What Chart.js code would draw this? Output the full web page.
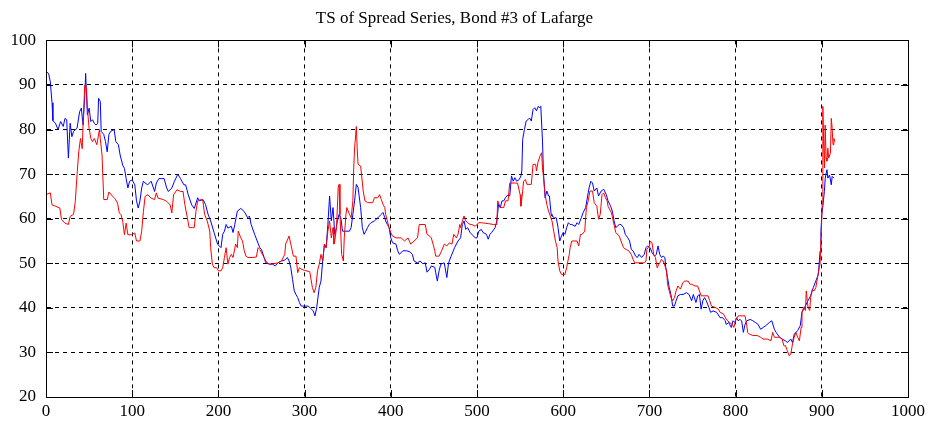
<!DOCTYPE html>
<html>
<head>
<meta charset="utf-8">
<script src="https://cdn.jsdelivr.net/npm/chart.js@4"></script>
<style>
  body { margin: 0; background: #fff; }
  canvas { display: block; }
</style>
</head>
<body>
<canvas id="spreadChart" width="929" height="426"></canvas>
<script>
const chartTitle = 'TS of Spread Series, Bond #3 of Lafarge';
const xTicks = [0, 100, 200, 300, 400, 500, 600, 700, 800, 900, 1000];
const yTicks = [20, 30, 40, 50, 60, 70, 80, 90, 100];

// blue series (observation index, spread)
const blueX = [0,3,5,7,8,11,14,17,20,22,24,26,28,30,32,36,39,41,43,45,46,48,50,52,54,56,58,60,61,63,64,67,69,71,73,75,79,81,84,86,89,91,93,95,97,100,103,105,107,109,111,113,115,118,122,126,128,131,134,137,140,142,146,149,153,156,160,162,165,169,172,176,178,182,185,188,191,195,199,203,205,207,209,211,215,217,219,222,226,230,234,236,238,242,245,248,250,253,255,259,263,266,269,273,277,280,282,284,286,288,290,292,294,296,300,304,307,310,312,314,317,319,321,323,325,327,329,331,333,335,336,338,340,342,344,348,352,354,356,358,360,362,364,365,367,369,371,373,375,377,381,385,389,391,393,394,396,398,400,402,406,408,410,414,418,422,425,427,431,434,437,440,442,445,447,451,452,454,456,458,462,465,467,470,474,478,481,483,485,487,489,492,494,498,500,502,505,507,511,513,515,517,521,523,525,527,529,531,533,536,538,540,542,544,546,549,551,552,553,555,557,559,561,563,565,567,569,571,573,574,576,577,579,581,583,584,586,587,590,592,594,596,598,600,602,604,606,608,610,614,616,618,621,623,626,629,630,632,634,636,639,641,644,647,650,652,655,657,659,661,665,667,670,672,675,677,679,681,684,686,688,691,694,696,698,701,703,706,708,710,712,714,716,718,719,721,723,725,727,729,731,733,736,739,743,746,749,751,754,756,758,760,762,764,766,769,771,774,778,782,785,788,789,792,795,797,799,801,803,805,807,809,811,813,817,820,823,826,829,832,835,839,842,845,847,851,854,858,860,864,866,868,872,875,877,880,884,887,890,893,896,898,899,900,901,903,904,906,907,909,911,912,914];
const blueY = [93,92.6,90.7,86,82,81.4,80,81.8,80.7,82.5,82.2,73.6,81.4,78.4,79.6,80.3,84,84.8,81,87.8,92.6,83.3,84.8,81.8,82.2,81.4,81,81.4,87,86.3,79.6,78.9,77.3,75,78.9,79.6,80,77.3,76.6,74.3,72,71.3,69,66.9,68.4,68.7,67.6,64,62.4,64,66.9,68.4,68,67.6,68.4,66.1,68,69,69,69,66.9,66.1,66.9,68.4,70,69,67.6,67.6,65.4,63.1,62.3,64.7,64,64.3,63.2,61,59.5,56.9,54.3,53.5,56.5,57.2,58.7,57.9,58.3,56.9,58.7,61.7,62.3,61.6,60.2,60.6,58.7,56.5,55,53.5,53.1,51.3,50.1,49.8,49.8,49.4,50.1,50.5,50.7,51.3,50.5,49,46.4,43.8,43,42.3,41.2,40.4,40.4,40.4,39.9,39.3,38.2,40,44.6,46,50.5,54.3,53.5,58.7,65.1,59.5,62.5,56.5,57.2,59.5,61,60.2,57.2,57.2,57.2,58,61,64,67.7,67,64,62.5,58,56.5,57.2,58,58.7,59.1,59.5,60.2,61,61.4,60.2,59.5,58.7,58,55.7,54.6,54.3,52.8,52,52.8,52.8,52.6,52,50.5,50.1,50.5,49.9,50.1,48,48.7,49.4,49.1,48,46,48.3,49.8,50.1,46.8,50.1,51.6,53.5,55,55.7,58.7,59.5,57.6,58,56.9,56.5,55.7,55.7,57.2,57.6,56.9,56.5,55.4,56.5,56.9,58,59.5,63.2,62.5,64,64,64.7,65.4,65.1,69.6,68.4,69.2,68.4,68.8,69.6,70.7,77.8,80,81.9,82.2,82.6,81.9,84.5,84.9,84.2,85.2,84.9,85.2,77.4,70.7,64.7,66.2,65.1,65.1,61,60.6,60.2,60.2,58,55,56.1,56.9,56.5,58,59.1,58.7,58.7,58.3,59.1,58.7,60.2,61.3,62.5,65.8,66.9,68.4,68,66.2,66.9,65.1,66.2,66.6,65.4,64,62.8,61.7,59.5,58,58.7,58.7,58,56.5,55.7,55,53.1,52.8,51.6,51.3,52,51.3,52,53.5,53.9,53.5,52.4,51.6,52,53.9,52,51.3,51.6,51.3,49,46.8,44.6,43,40.4,40.4,41.6,42.7,43,43,43.4,43,41.6,43,41.2,42.7,43,39.7,41.6,42.3,41.6,40.1,39,39.3,39,37.8,37.8,37.1,36.3,36.7,35.6,37.1,36.7,37.8,37.1,37.4,37.1,34.5,36.3,37.1,37.4,37.1,36.7,36.3,35.2,35.6,36,36.7,37.1,35.2,34.5,33.4,33,32.6,32.2,33,32.2,34.1,34.9,36,39,40.1,41.6,42.7,44.5,46,47.5,52.7,57.2,60.9,62.4,66.1,69.1,71,69.1,69.8,67.6,69.5,69.1];

// red series (observation index, spread)
const redX = [0,5,7,11,16,18,22,26,28,32,34,36,38,40,42,43,45,47,48,50,52,54,56,59,62,63,65,67,71,73,76,80,83,85,87,89,91,93,95,99,103,105,109,111,113,115,118,122,126,128,130,136,140,144,146,148,152,156,159,161,164,166,170,172,174,176,180,182,184,187,190,191,193,195,198,200,203,205,207,209,211,213,215,217,220,222,223,226,228,230,232,234,240,244,246,248,251,253,255,258,261,264,269,273,277,278,282,284,287,290,292,294,296,300,306,309,311,313,315,317,319,321,323,325,327,329,331,333,334,335,337,339,340,341,343,345,346,348,349,352,354,356,357,358,359,360,361,362,365,366,368,370,373,379,381,385,387,389,391,393,394,396,398,400,402,406,412,416,420,423,427,431,433,440,442,445,447,449,451,452,456,459,462,465,468,471,473,476,478,480,481,483,485,487,489,492,494,498,502,505,513,519,523,524,527,531,533,536,538,547,550,551,553,554,556,558,563,564,565,568,569,571,573,575,576,577,579,581,583,585,587,589,591,593,594,596,598,602,604,605,607,608,610,616,618,620,622,625,626,627,629,631,634,636,639,641,643,645,647,649,651,652,656,658,661,665,667,670,673,676,679,681,683,694,696,697,700,701,703,705,707,709,711,712,714,716,718,720,721,723,725,727,729,731,733,736,739,741,745,747,749,753,756,758,760,768,770,772,776,780,782,786,789,793,796,798,800,803,811,813,814,816,820,825,829,832,837,841,843,845,851,854,856,858,860,862,864,866,868,870,872,874,876,877,879,881,882,884,886,887,889,891,893,895,897,898,899.5,900.4,901.2,902.3,903.1,903.9,905,906,907,908,910,911,912,913,914,915];
const redY = [65.4,65.8,63.1,62.8,62.4,59.8,59,58.7,60.5,61,63.9,69.9,75,78,75.7,81,90,89.3,84.8,80.3,78,77.3,78,76.6,80,78,74.3,64.3,64.3,66,65.3,64.5,63.5,61.3,60.9,59.4,56.4,59,56.4,56.4,56.8,55,55,57.2,61.6,65,65.4,64.6,64.3,65.8,64.6,64.3,63.9,63.1,61.3,65.4,66.5,66.1,66.1,63.2,60.2,58,58,58,61.7,64,64.3,64,61,59.5,57.2,53.5,49.8,49,49,48.3,48.3,49,51.3,53.5,49.8,51.3,52,51.3,54.3,53.5,57.2,55.7,55,52.8,51.6,51.3,51.3,51.4,53.5,53.1,52,51.3,50.5,49.9,49.8,49.9,50.1,50.5,52,54.3,56.1,54.3,51.6,51.6,47.9,49,48.7,48.4,48.1,44.6,43.4,44.6,48.3,49.8,52,50.5,54.3,53.5,57.2,59.5,55.7,58,54.3,55,58,67,67.7,61,52,50.5,55.7,61,62.5,61,60.2,64,71.4,75.9,78.1,80.7,75.9,72.2,71.8,70,66.2,64,63.6,63.6,64.7,64.7,65.4,64.3,63.2,62.5,61,59.5,58,56.9,56.1,55.7,55.7,55,55.7,54.3,55,55.7,58.7,58.7,56.5,56.1,55.7,54.3,52.8,51.6,51.6,52.8,54.3,53.9,54.6,54.3,56.5,55.7,56.5,58.7,58,59.5,60.6,59.5,59.1,58.7,58.7,58.3,59.1,59.1,58.9,58.7,58.7,64,62.5,62.5,64,64,68,68,65.4,62.8,66.2,68.4,68.8,67.7,67.7,69.9,72.2,72.2,70.7,72.9,74,74.8,71.4,69.6,65.4,63.2,61.7,60.6,59.5,57.2,55,53.5,50.5,48.3,47.5,47.5,49,50.1,51.9,53.5,55,55,53.9,56.5,56.5,57.2,60.2,62.5,64,66.2,66.2,63.6,62.8,59.9,61,65.4,65.8,64.7,64,62.8,61.3,59.5,56.9,56.1,55,53.5,53.1,52.8,52,50.9,50.1,50.1,50.5,53.1,53.9,55,54.6,52,51.3,49,49.8,50.1,50.9,50.5,49.4,48.3,45.3,43.8,42.3,41.6,42.3,43.8,44.9,44.2,45.7,46,46,45.3,45.3,44.9,44.9,43.8,42.7,42.7,41.6,40.4,40.1,39.7,39,38.6,37.5,36.7,36.3,35.6,37.1,38.2,38.2,36,34.5,34.1,33.8,33.8,33.4,33,33,32.6,34.5,33.4,33.4,33,31.5,31.5,30.4,29.3,29.6,31.9,33.4,34.5,33.4,32.6,35.6,39,40.1,39.4,43.8,40.1,39.4,42.3,44.1,43.8,44.5,46.8,49,49.8,57.2,63.2,85.2,75.8,71.4,81,73.6,72.9,75.8,73.6,74.7,82.5,80.3,76.6,78,77.3];

function toPoints(xs, ys) {
    return xs.map((x, i) => ({ x: x, y: ys[i] }));
}

// MATLAB style box with inward ticks on all four sides
const axesBox = {
    id: 'axesBox',
    afterDraw(chart) {
        const { ctx, chartArea: a, scales } = chart;
        const len = 7;
        ctx.save();
        ctx.strokeStyle = '#000';
        ctx.lineWidth = 1;
        ctx.setLineDash([]);
        ctx.beginPath();
        scales.x.ticks.forEach(t => {
            const px = Math.round(scales.x.getPixelForValue(t.value)) + 0.5;
            ctx.moveTo(px, a.bottom); ctx.lineTo(px, a.bottom - len);
            ctx.moveTo(px, a.top); ctx.lineTo(px, a.top + len);
        });
        scales.y.ticks.forEach(t => {
            const py = Math.round(scales.y.getPixelForValue(t.value)) + 0.5;
            ctx.moveTo(a.left, py); ctx.lineTo(a.left + len, py);
            ctx.moveTo(a.right, py); ctx.lineTo(a.right - len, py);
        });
        ctx.stroke();
        ctx.strokeRect(Math.round(a.left) + 0.5, Math.round(a.top) + 0.5,
            Math.round(a.right - a.left), Math.round(a.bottom - a.top));
        ctx.restore();
    }
};

function createChart() {
    const ctx = document.getElementById('spreadChart').getContext('2d');
    const font = { family: '"Liberation Serif", "DejaVu Serif", serif', size: 17 };
    new Chart(ctx, {
        type: 'line',
        data: {
            datasets: [{
                data: toPoints(redX, redY),
                borderColor: '#ff0000',
                order: 0
            }, {
                data: toPoints(blueX, blueY),
                borderColor: '#0000ff',
                order: 1
            }]
        },
        options: {
            responsive: false,
            animation: false,
            layout: { padding: { right: 20 } },
            elements: {
                line: { borderWidth: 1, tension: 0 },
                point: { radius: 0 }
            },
            scales: {
                x: {
                    type: 'linear',
                    min: 0,
                    max: 1000,
                    afterBuildTicks: s => { s.ticks = xTicks.map(v => ({ value: v })); },
                    afterFit: s => { s.height = 29; },
                    ticks: { color: '#000', font: font, padding: 4, maxRotation: 0, callback: v => String(v) },
                    grid: { color: '#000', lineWidth: 1, drawTicks: false },
                    border: { color: '#000', dash: [4, 4] }
                },
                y: {
                    min: 20,
                    max: 100,
                    afterBuildTicks: s => { s.ticks = yTicks.map(v => ({ value: v })); },
                    afterFit: s => { s.width = 46; },
                    ticks: { color: '#000', font: font, padding: 10, callback: v => String(v) },
                    grid: { color: '#000', lineWidth: 1, drawTicks: false },
                    border: { color: '#000', dash: [4, 4] }
                }
            },
            plugins: {
                legend: { display: false },
                tooltip: { enabled: false },
                title: {
                    display: true,
                    text: chartTitle,
                    color: '#000',
                    font: { family: font.family, size: 17, weight: 'normal' },
                    padding: { top: 8, bottom: 12 }
                }
            }
        },
        plugins: [axesBox]
    });
}

createChart();
</script>
</body>
</html>
